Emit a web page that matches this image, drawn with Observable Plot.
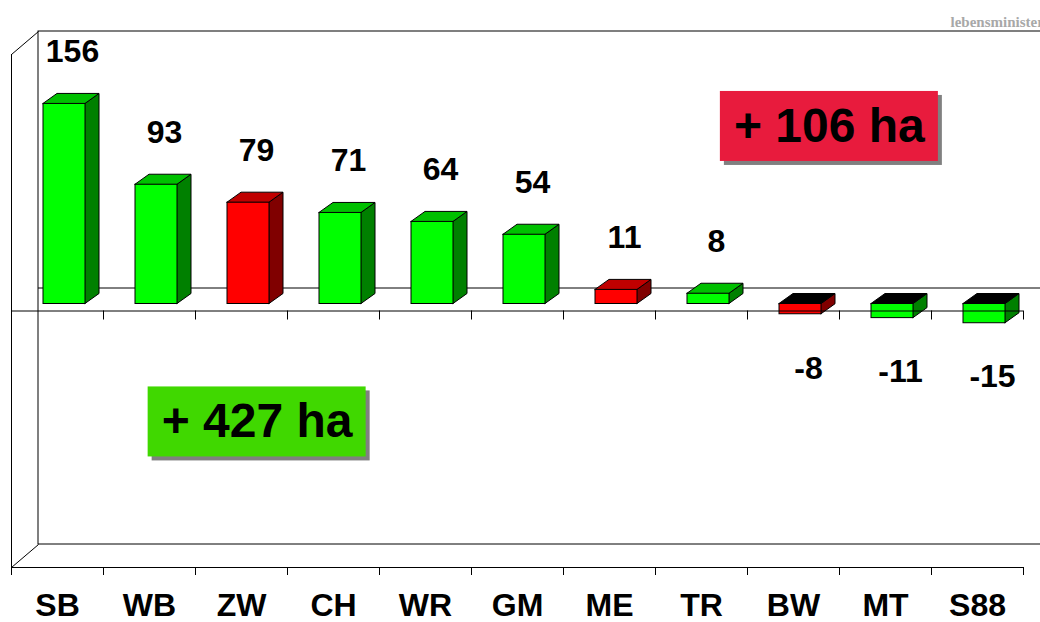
<!DOCTYPE html>
<html><head><meta charset="utf-8">
<script src="https://cdn.jsdelivr.net/npm/d3@7"></script>
<script src="https://cdn.jsdelivr.net/npm/@observablehq/plot@0.6"></script>
<style>
body{margin:0;background:#fff;}
#chart{position:relative;width:1040px;height:622px;overflow:hidden;}
#chart svg{display:block;}
</style>
</head><body><div id="chart"></div>
<script>
// ---- data ----
const categories = ["SB","WB","ZW","CH","WR","GM","ME","TR","BW","MT","S88"];
const values = [156, 93, 79, 71, 64, 54, 11, 8, -8, -11, -15];
const colorKeys = ["g","g","r","g","g","g","r","g","r","g","g"];
const annotationLabels = ["+ 106 ha", "+ 427 ha"];
const annotationColors = ["#E81B3D", "#40D800"];
const annotationX = [8.89, 2.67];     // position in category units
const annotationY = [143.9, -86.5];   // position in value units
const watermark = "lebensministerium.at";

// ---- layout ----
const W = 1040, H = 622, mL = 11, mR = 17, mT = 54, mB = 55;
const kx = (W - mL - mR) / categories.length;
const ky = (H - mT - mB) / 400;
const px = p => p / kx, py = p => p / ky;
const BX = px(27), BY = py(23);   // back wall depth
const FX = px(7),  FY = py(7);    // bar front plane
const DX = px(14), DY = py(10);   // bar depth
const HW = px(21);                // half bar width

const pal = {
  g: {front: "#00FF00", side: "#008000", top: "#00C000"},
  r: {front: "#FF0000", side: "#800000", top: "#C00000"}
};

const rows = categories.map((c, i) => ({c, i, v: values[i], k: colorKeys[i]}));
const bx1 = d => d.i + 0.5 - HW + FX;
const bx2 = d => d.i + 0.5 + HW + FX;

const sidePts = rows.flatMap(d => {
  const lo = Math.min(0, d.v) + FY, hi = Math.max(0, d.v) + FY;
  const f = pal[d.k].side;
  return [
    {z: d.i, x: bx2(d), y1: lo, y2: hi, f},
    {z: d.i, x: bx2(d) + DX, y1: lo + DY, y2: hi + DY, f}
  ];
});
const topPts = rows.flatMap(d => {
  const t = Math.max(0, d.v) + FY;
  const f = d.v < 0 ? "#000000" : pal[d.k].top;
  return [
    {z: d.i, y: t, x1: bx1(d), x2: bx2(d), f},
    {z: d.i, y: t + DY, x1: bx1(d) + DX, x2: bx2(d) + DX, f}
  ];
});

const ann = annotationLabels.map((t, i) => ({t, f: annotationColors[i], x: annotationX[i], y: annotationY[i]}));
const AW = px(109), AH = py(35);

const boundaries = d3.range(0, categories.length + 1);
const font = "Liberation Sans, Arial, sans-serif";

const chart = Plot.plot({
  width: W, height: H,
  marginLeft: mL, marginRight: mR, marginTop: mT, marginBottom: mB,
  x: {type: "linear", domain: [0, categories.length], axis: null},
  y: {type: "linear", domain: [-200, 200], axis: null},
  color: {type: "identity"},
  style: {fontFamily: font, background: "white", overflow: "hidden"},
  marks: [
    // back wall
    Plot.rect([0], {x1: BX, x2: categories.length + BX, y1: -200 + BY, y2: 200 + BY, fill: "none", stroke: "black"}),
    Plot.ruleY([BY], {x1: BX, x2: categories.length + BX, stroke: "black"}),
    // side wall diagonals
    Plot.link([200, -200], {x1: 0, y1: d => d, x2: BX, y2: d => d + BY, stroke: "black"}),
    // bars
    Plot.areaY(sidePts, {x: "x", y1: "y1", y2: "y2", z: "z", fill: "f", stroke: "black", strokeWidth: 1}),
    Plot.areaX(topPts, {y: "y", x1: "x1", x2: "x2", z: "z", fill: "f", stroke: "black", strokeWidth: 1}),
    Plot.rect(rows, {x1: bx1, x2: bx2, y1: FY, y2: d => d.v + FY, fill: d => pal[d.k].front, stroke: "black"}),
    // front axes
    Plot.ruleY([0], {x1: 0, x2: categories.length, stroke: "black"}),
    Plot.ruleY([-200], {x1: 0, x2: categories.length, stroke: "black"}),
    Plot.ruleX([0], {y1: -200, y2: 200, stroke: "black"}),
    Plot.ruleX(boundaries, {y1: 0, y2: -py(9), stroke: "black"}),
    Plot.ruleX(boundaries, {y1: -200, y2: -200 - py(8), stroke: "black"}),
    // value labels
    Plot.text(rows.filter(d => d.v >= 0), {x: d => d.i + 0.5, y: "v", text: d => String(d.v), dx: 15, dy: -59, fontSize: 32, fontWeight: "bold", fill: "black"}),
    Plot.text(rows.filter(d => d.v < 0), {x: d => d.i + 0.5, y: "v", text: d => String(d.v), dx: 15, dy: 47, fontSize: 32, fontWeight: "bold", fill: "black"}),
    // category labels
    Plot.text(rows, {x: d => d.i + 0.5, y: -200, text: "c", dy: 38, fontSize: 32, fontWeight: "bold", fill: "black"}),
    // annotation boxes
    Plot.rect(ann, {x1: d => d.x - AW, x2: d => d.x + AW, y1: d => d.y - AH, y2: d => d.y + AH, fill: "#808080", dx: 4, dy: 4}),
    Plot.rect(ann, {x1: d => d.x - AW, x2: d => d.x + AW, y1: d => d.y - AH, y2: d => d.y + AH, fill: "f"}),
    Plot.text(ann, {x: "x", y: "y", text: "t", fontSize: 48, fontWeight: "bold", fill: "black"}),
    // watermark
    Plot.text([watermark], {frameAnchor: "top-left", text: d => d, textAnchor: "start", dx: 939, dy: -38, fontSize: 15, fontWeight: "bold", fontFamily: "Liberation Serif, serif", fill: "#a8a8a8"})
  ]
});
document.getElementById("chart").appendChild(chart);
</script>
</body></html>
